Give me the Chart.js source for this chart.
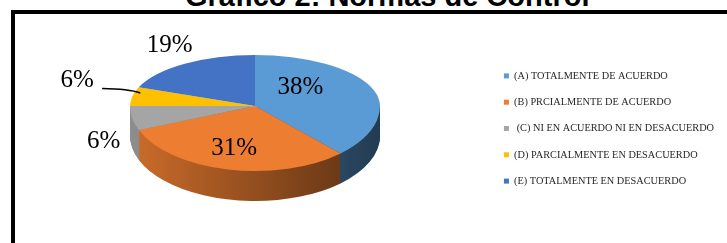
<!DOCTYPE html>
<html><head><meta charset="utf-8">
<script src="https://cdn.jsdelivr.net/npm/chart.js@4"></script>
<style>
html,body{margin:0;padding:0;width:727px;height:243px;overflow:hidden;background:#fff}
#frame{position:absolute;left:11px;top:10px;width:900px;height:400px;border:4px solid #000;box-sizing:border-box}
#title{position:absolute;left:185px;top:-18.5px;font:bold 29px/29px "Liberation Sans",Arial,sans-serif;color:#000;white-space:nowrap}
#wrap{position:absolute;left:0;top:0;width:727px;height:243px}
</style></head><body>
<div id="frame"></div>
<div id="title">Gráfico 2: Normas de Control</div>
<div id="wrap"><canvas id="c" width="727" height="243"></canvas></div>
<script>
// ---- data ----
const categories = ['(A) TOTALMENTE DE ACUERDO', '(B) PRCIALMENTE DE ACUERDO', ' (C) NI EN ACUERDO NI EN DESACUERDO', '(D) PARCIALMENTE EN DESACUERDO', '(E) TOTALMENTE EN DESACUERDO'];
const values = [38, 31, 6, 6, 19];
const valueLabels = values.map(v => v + '%');
const colors = ['#5B9BD5', '#ED7D31', '#A5A5A5', '#FFC000', '#4472C4'];

// ---- style / layout ----
const pieView = {cx: 255, cy: 106, rx: 125, ryTop: 51, ryBot: 65, depth: 30};
const labelRadius = [0.4, 0.65, 1.2, 1.4, 1.3];
const labelNudge = [[-1, -11], [-3, 1], [-4, 21], [-6, -12], [6, -6]];
const leader = {index: 3, start: [25, 8], f: 0.95, endNudge: [2, -4]};

function shade(hex, f) {
  const n = parseInt(hex.slice(1), 16);
  const r = (n >> 16) & 255, g = (n >> 8) & 255, b = n & 255;
  return 'rgb(' + Math.round(r * f) + ',' + Math.round(g * f) + ',' + Math.round(b * f) + ')';
}

const pie3d = {
  id: 'pie3d',
  beforeDatasetsDraw(chart) {
    const ctx = chart.ctx;
    const arcs = chart.getDatasetMeta(0).data;
    if (!arcs.length) return;
    const a0 = arcs[0];
    const ox = a0.x, oy = a0.y, R = a0.outerRadius;
    const V = pieView;
    const setT = (sy, dy) => {
      ctx.translate(V.cx, V.cy + dy);
      ctx.scale(V.rx / R, sy / R);
      ctx.translate(-ox, -oy);
    };
    const grads = arcs.map((arc, i) => {
      const g = ctx.createLinearGradient(ox - R, 0, ox + R, 0);
      g.addColorStop(0, shade(colors[i], 0.86));
      g.addColorStop(1, shade(colors[i], 0.38));
      return g;
    });
    // side walls
    for (let d = V.depth; d >= 1; d--) {
      ctx.save();
      ctx.beginPath(); ctx.rect(0, V.cy + d, chart.width, chart.height); ctx.clip();
      setT(V.ryBot, d);
      arcs.forEach((arc, i) => {
        ctx.fillStyle = grads[i];
        ctx.beginPath();
        ctx.moveTo(ox, oy);
        ctx.arc(ox, oy, R, arc.startAngle, arc.endAngle);
        ctx.closePath();
        ctx.fill();
      });
      ctx.restore();
    }
    // top face: back half and front half
    ctx.save();
    ctx.beginPath(); ctx.rect(0, 0, chart.width, V.cy + 0.5); ctx.clip();
    setT(V.ryTop, 0);
    arcs.forEach(a => a.draw(ctx));
    ctx.restore();
    ctx.save();
    ctx.beginPath(); ctx.rect(0, V.cy - 0.5, chart.width, chart.height); ctx.clip();
    setT(V.ryBot, 0);
    arcs.forEach(a => a.draw(ctx));
    ctx.restore();

    // value labels
    ctx.save();
    ctx.font = '25px "Liberation Serif", "Times New Roman", serif';
    ctx.fillStyle = '#000';
    ctx.textAlign = 'center';
    ctx.textBaseline = 'middle';
    const pos = (arc, f) => {
      const mid = (arc.startAngle + arc.endAngle) / 2;
      const dx = Math.cos(mid), dy = Math.sin(mid);
      return [V.cx + V.rx * dx * f, V.cy + (dy < 0 ? V.ryTop : V.ryBot) * dy * f];
    };
    arcs.forEach((arc, i) => {
      const p = pos(arc, labelRadius[i]);
      ctx.fillText(valueLabels[i], p[0] + labelNudge[i][0], p[1] + labelNudge[i][1]);
    });
    // leader line
    const la = arcs[leader.index];
    const lp = pos(la, labelRadius[leader.index]);
    const sx = lp[0] + labelNudge[leader.index][0] + leader.start[0];
    const sy = lp[1] + labelNudge[leader.index][1] + leader.start[1];
    const ep = pos(la, leader.f);
    const ex = ep[0] + leader.endNudge[0], ey = ep[1] + leader.endNudge[1];
    ctx.strokeStyle = '#000';
    ctx.lineWidth = 1.5;
    ctx.beginPath();
    ctx.moveTo(sx, sy);
    ctx.quadraticCurveTo(sx + (ex - sx) * 0.7, sy + 0.5, ex, ey);
    ctx.stroke();
    ctx.restore();
    return false;
  }
};

new Chart(document.getElementById('c'), {
  type: 'pie',
  data: {
    labels: categories,
    datasets: [{data: values, backgroundColor: colors, borderWidth: 0}]
  },
  options: {
    responsive: false,
    animation: false,
    layout: {padding: {top: 14, right: 3}},
    plugins: {
      legend: {
        position: 'right',
        labels: {
          boxWidth: 5, boxHeight: 5, padding: 16, color: '#262626',
          font: {family: '"Liberation Serif", "Times New Roman", serif', size: 10.3}
        }
      },
      tooltip: {enabled: false}
    }
  },
  plugins: [pie3d]
});
</script>
</body></html>
